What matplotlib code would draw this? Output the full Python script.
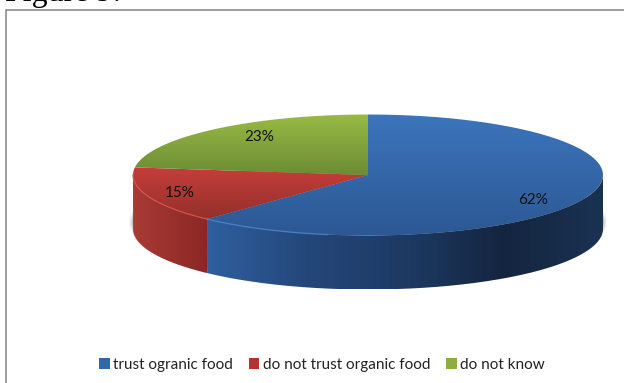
import numpy as np
from matplotlib import pyplot as plt
from matplotlib.colors import LinearSegmentedColormap
from matplotlib.patches import Ellipse, PathPatch, Patch, Rectangle
from matplotlib.path import Path

# values
labels = ['trust ogranic food', 'do not trust organic food', 'do not know']
shares = [62, 15, 23]
pct_labels = ['62%', '15%', '23%']

# pie geometry in image pixels
cx, cy = 368, 175
rx, ry = 235, 60.5
depth = 54
label_xy = [(533, 200), (180, 193), (259, 137)]

top_cols = [('#3c75bc', '#2c5894'), ('#c63e3a', '#93302c'), ('#98bb45', '#6c8c34')]
side_cols = [['#2f5f9f', '#24477a', '#1d3a64', '#14253f', '#1a3252'],
             ['#a93b36', '#8a2724'],
             ['#6c8c34', '#6c8c34']]
rim_cols = ['#4a83cc', '#e2504a', '#a8cc50']
legend_cols = ['#3068a8', '#b8322e', '#8cae3c']


def arc(t1, t2, dy=0):
    t = np.radians(np.linspace(t1, t2, 200))
    return np.column_stack([cx + rx * np.sin(t), cy + dy - ry * np.cos(t)])


def gradient_fill(ax, pts, cols, vertical):
    cmap = LinearSegmentedColormap.from_list('g', cols)
    grad = np.linspace(0, 1, 256)
    grad = grad[:, None] if vertical else grad[None, :]
    x0, y0 = pts.min(axis=0)
    x1, y1 = pts.max(axis=0)
    im = ax.imshow(grad, cmap=cmap, extent=(x0, x1, y1, y0), aspect='auto', zorder=3)
    clip = PathPatch(Path(np.vstack([pts, pts[:1]])), transform=ax.transData, fc='none', ec='none')
    ax.add_patch(clip)
    im.set_clip_path(clip)


fig = plt.figure(figsize=(6.24, 3.83), dpi=100)
ax = fig.add_axes([0, 0, 1, 1])

# chart frame
ax.add_patch(Rectangle((6, 10), 640, 400, fc='white', ec='#8c8c8c', lw=1.2, zorder=0))

# soft shadow under the pie
for grow, a in zip([5, 4, 3, 2, 1], [0.05, 0.08, 0.12, 0.16, 0.22]):
    ax.add_patch(Ellipse((cx, cy + 47), 2 * (rx + grow - 1), 2 * (ry + grow - 1), fc='#555555', ec='none', alpha=a, zorder=1))

angles = np.concatenate([[0], np.cumsum(shares) / np.sum(shares) * 360])

# sides
for i in range(len(shares)):
    t1, t2 = max(angles[i], 90), min(angles[i + 1], 270)
    if t2 > t1:
        pts = np.vstack([arc(t1, t2), arc(t2, t1, depth)])
        gradient_fill(ax, pts, side_cols[i], False)

# top faces
for i in range(len(shares)):
    pts = np.vstack([[cx, cy], arc(angles[i], angles[i + 1])])
    gradient_fill(ax, pts, top_cols[i], True)

# light rim on the front left edge
for i in range(len(shares)):
    t1, t2 = max(angles[i], 190), min(angles[i + 1], 270)
    if t2 > t1:
        p = arc(t1, t2)
        ax.plot(p[:, 0], p[:, 1], color=rim_cols[i], lw=1, alpha=0.8, zorder=4)

for (x, y), s in zip(label_xy, pct_labels):
    ax.text(x, y, s, ha='center', va='center', fontsize=11, family='Lato', color='#111111', zorder=5)

# heading cut by the top of the image, as in the reference
ax.text(5, 1.5, 'Figure 9:', fontsize=23, family='Liberation Serif', color='black', ha='left', va='baseline', zorder=5)

handles = [Patch(fc=c, ec='none') for c in legend_cols]
fig.legend(handles, labels, loc='center', bbox_to_anchor=(322 / 624, 1 - 365 / 383), ncol=3, frameon=False,
           prop={'family': 'Lato', 'size': 11}, handlelength=0.7, handleheight=0.7, handletextpad=0.25,
           columnspacing=1.0, labelcolor='#222222')

ax.set_xlim(0, 624)
ax.set_ylim(383, 0)
ax.axis('off')

fig.savefig('out.png', dpi=100)
